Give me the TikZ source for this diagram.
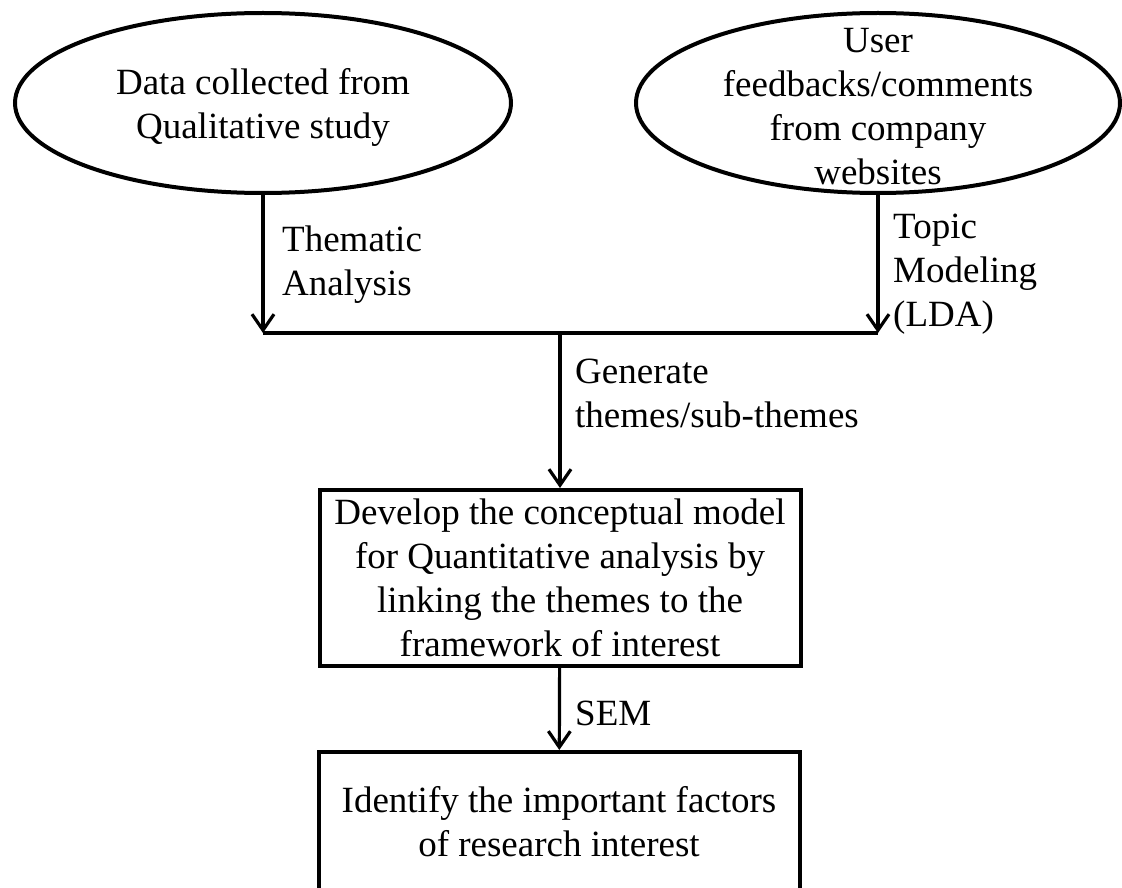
\documentclass[tikz,border=0pt]{standalone}
\usepackage{fontspec}
\setmainfont{Liberation Serif}
\usepackage{tikz}
\usetikzlibrary{arrows.meta}
\usetikzlibrary{shapes.geometric}
\newlength{\flowunit}
\setlength{\flowunit}{1pt}
\tikzstyle{nodestyle}=[inner sep=0pt, font=\fontsize{37}{44}\selectfont]
\tikzstyle{edgestyle}=[draw, line width=3.2pt, -{Straight Barb[length=16pt, width=22pt]}]
\tikzstyle{joinstyle}=[draw, line width=3.2pt]
\tikzstyle{source}=[ellipse, draw, line width=4pt, inner sep=0pt, minimum height=180\flowunit]
\tikzstyle{sourcetext}=[nodestyle, align=center]
\tikzstyle{process}=[rectangle, draw, nodestyle, line width=4pt, align=center, minimum width=481\flowunit]
\tikzstyle{edgelabel}=[nodestyle, anchor=west, align=left]
\newcommand{\flowlabel}[3]{\node [edgelabel] (#1) at #2 {#3};}

\begin{document}
\begin{tikzpicture}[x=\flowunit, y=-\flowunit]
\useasboundingbox (0,0) rectangle (1122,888);
% the two data sources
\node [source, minimum width=496\flowunit] (qual) at (263,103) {};
\node [sourcetext] (qualtext) at (263,107) {Data collected from\\Qualitative study};
\node [source, minimum width=484\flowunit] (user) at (878,103) {};
\node [sourcetext] (usertext) at (878,107) {User\\feedbacks/comments\\from company\\websites};
% boxes
\node [process, minimum height=176\flowunit] (model) at (560,578)
  {Develop the conceptual model\\for Quantitative analysis by\\linking the themes to the\\framework of interest};
\node [process, minimum height=140\flowunit] (factors) at (559,822)
  {Identify the important factors\\of research interest};
% join line
\coordinate (joinL) at (263,333);
\coordinate (joinM) at (560,333);
\coordinate (joinR) at (878,333);
\draw [edgestyle] (qual) -- (joinL);
\draw [edgestyle] (user) -- (joinR);
\draw [joinstyle] (joinL) -- (joinR);
\draw [edgestyle] (joinM) -- (model);
\draw [edgestyle] (model) -- (factors);
% labels
\flowlabel{thematic}{(282,265)}{Thematic\\Analysis}
\flowlabel{topic}{(893,274)}{Topic\\Modeling\\(LDA)}
\flowlabel{generate}{(575,393)}{Generate\\themes/sub-themes}
\flowlabel{sem}{(575,713)}{SEM}
\end{tikzpicture}
\end{document}
